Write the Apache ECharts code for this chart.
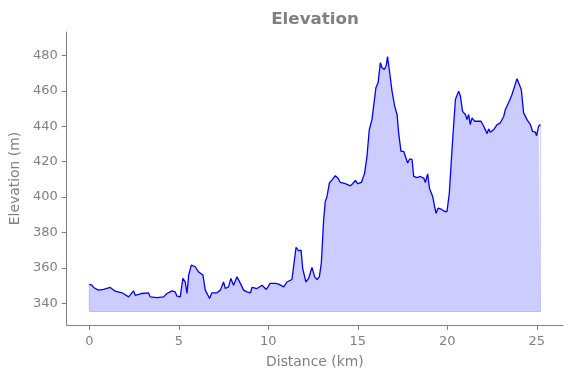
<!DOCTYPE html>
<html>
<head>
<meta charset="utf-8">
<script src="https://cdn.jsdelivr.net/npm/echarts@6/dist/echarts.min.js"></script>
<style>
  html, body { margin: 0; padding: 0; background: #fff; }
  #chart { width: 571px; height: 378px; }
</style>
</head>
<body>
<div id="chart"></div>
<script>
// distance along the route (km) and elevation (m)
const distKm = [
  0, 0.15, 0.24, 0.52, 0.8, 1.17, 1.45, 1.83, 2.2, 2.47, 2.57, 2.94, 3.31, 3.4, 3.78,
  4.15, 4.34, 4.62, 4.8, 4.9, 5.08, 5.23, 5.36, 5.46, 5.55, 5.7, 5.92, 6.1, 6.35, 6.48,
  6.72, 6.85, 7.13, 7.32, 7.5, 7.6, 7.78, 7.91, 8.06, 8.25, 8.44, 8.62, 8.81, 9.0, 9.09,
  9.37, 9.65, 9.89, 10.1, 10.4, 10.58, 10.86, 11.04, 11.32, 11.42, 11.55, 11.7, 11.83, 11.92, 12.03,
  12.1, 12.25, 12.44, 12.59, 12.72, 12.85, 12.96, 13.09, 13.18, 13.28, 13.41, 13.56, 13.74, 13.89, 14.02,
  14.3, 14.58, 14.71, 14.86, 15.01, 15.2, 15.38, 15.51, 15.64, 15.79, 15.88, 16.01, 16.13, 16.26, 16.35,
  16.48, 16.58, 16.66, 16.78, 16.91, 17.06, 17.19, 17.28, 17.41, 17.56, 17.65, 17.78, 17.9, 18.03, 18.12,
  18.31, 18.49, 18.68, 18.77, 18.9, 19.0, 19.1, 19.18, 19.29, 19.37, 19.48, 19.66, 19.85, 19.98, 20.11,
  20.26, 20.45, 20.54, 20.63, 20.73, 20.85, 21.01, 21.1, 21.19, 21.28, 21.38, 21.52, 21.66, 21.74, 21.88,
  22.03, 22.22, 22.31, 22.4, 22.59, 22.78, 22.96, 23.15, 23.24, 23.42, 23.61, 23.76, 23.89, 24.02, 24.13,
  24.26, 24.45, 24.64, 24.76, 24.92, 24.98, 25.1, 25.2
];
const elevM = [
  350.6, 350.2, 348.9, 347.4, 347.8, 348.9, 346.8, 345.9, 343.6, 347, 344.5, 345.5, 345.8, 343.6, 343.2,
  343.6, 345.5, 347, 346.4, 344, 343.6, 354, 352, 345.5, 355.9, 361.5, 360.6, 357.7, 355.9, 347.4,
  342.7, 345.9, 345.9, 347.4, 352, 348.3, 349.2, 354, 350.2, 354.9, 351.2, 347.4, 346.4, 345.8, 348.9,
  348.3, 350.2, 347.8, 351.2, 351.2, 350.8, 349.2, 352, 353.4, 353, 371.6, 369.6, 370, 359.7, 358.7,
  352, 354, 360.2, 354.9, 353.4, 354.9, 362.5, 387, 397.4, 400.3, 407.9, 409.7, 412, 410.7, 408.2,
  407.5, 406.3, 407.5, 409.3, 407.5, 408.2, 413.5, 422.9, 438, 443.7, 444.7, 461.7, 464.5, 475.9, 473,
  472.1, 474, 479.3, 470.2, 459.8, 451.3, 446.6, 436.2, 425.8, 425.8, 424.9, 419.2, 421.5, 421.1, 411.6,
  411, 411.6, 410.7, 408.2, 413.1, 405, 405.6, 400.3, 394.6, 390.8, 393.7, 393.1, 391.8, 391.8, 402.2,
  426.7, 455.1, 456, 459.8, 457, 448.4, 446.6, 443.7, 446.6, 440.9, 444.7, 442.8, 442.8, 441.9, 442.8,
  440, 435.8, 438.5, 436.6, 438.1, 440.9, 441.9, 445.6, 449.4, 453.2, 457.9, 462.6, 466.8, 463.6, 460.7,
  447.5, 443.7, 440.9, 437.1, 436.6, 434.6, 440, 440.9
];
const fillBase = 335.3;
const xTicks = [0, 5, 10, 15, 20, 25];
const yTicks = [340, 360, 380, 400, 420, 440, 460, 480];

const gray = '#808080';
const font = 'DejaVu Sans';

const profile = distKm.map((d, i) => [d, elevM[i]]);
const last = distKm.length - 1;
// thin edge round the filled area, like the reference
const outline = [
  [distKm[0], elevM[0]],
  [distKm[0], fillBase],
  [distKm[last], fillBase],
  [distKm[last], elevM[last]]
];

const chart = echarts.init(document.getElementById('chart'));

chart.setOption({
  animation: false,
  title: {
    text: 'Elevation',
    left: 310,
    top: 6,
    textAlign: 'center',
    textStyle: { color: gray, fontFamily: font, fontSize: 16.7, fontWeight: 'bold' }
  },
  grid: { left: 66, right: 8, top: 32, bottom: 53 },
  xAxis: {
    type: 'value',
    min: -1.26,
    max: 26.46,
    name: 'Distance (km)',
    nameLocation: 'middle',
    nameGap: 30,
    nameTextStyle: { color: gray, fontFamily: font, fontSize: 13.9 },
    axisLine: { show: true, onZero: false, lineStyle: { color: gray, width: 1 } },
    axisTick: { show: true, length: 5, lineStyle: { color: gray }, customValues: xTicks },
    axisLabel: { color: gray, fontFamily: font, fontSize: 13, margin: 10, customValues: xTicks },
    splitLine: { show: false }
  },
  yAxis: {
    type: 'value',
    min: 327.7,
    max: 493.2,
    name: 'Elevation (m)',
    nameLocation: 'middle',
    nameGap: 38,
    nameTextStyle: { color: gray, fontFamily: font, fontSize: 13.9 },
    axisLine: { show: true, onZero: false, lineStyle: { color: gray, width: 1 } },
    axisTick: { show: true, length: 5, lineStyle: { color: gray }, customValues: yTicks },
    axisLabel: { color: gray, fontFamily: font, fontSize: 13, margin: 9, customValues: yTicks },
    splitLine: { show: false }
  },
  series: [
    {
      type: 'line',
      data: outline,
      showSymbol: false,
      silent: true,
      lineStyle: { color: 'rgba(0,0,255,0.2)', width: 1 },
      z: 1
    },
    {
      type: 'line',
      data: profile,
      showSymbol: false,
      lineStyle: { color: '#0000ff', width: 1.3 },
      areaStyle: { color: 'rgba(0,0,255,0.2)', origin: fillBase, opacity: 1 },
      z: 2
    }
  ]
});
</script>
</body>
</html>
